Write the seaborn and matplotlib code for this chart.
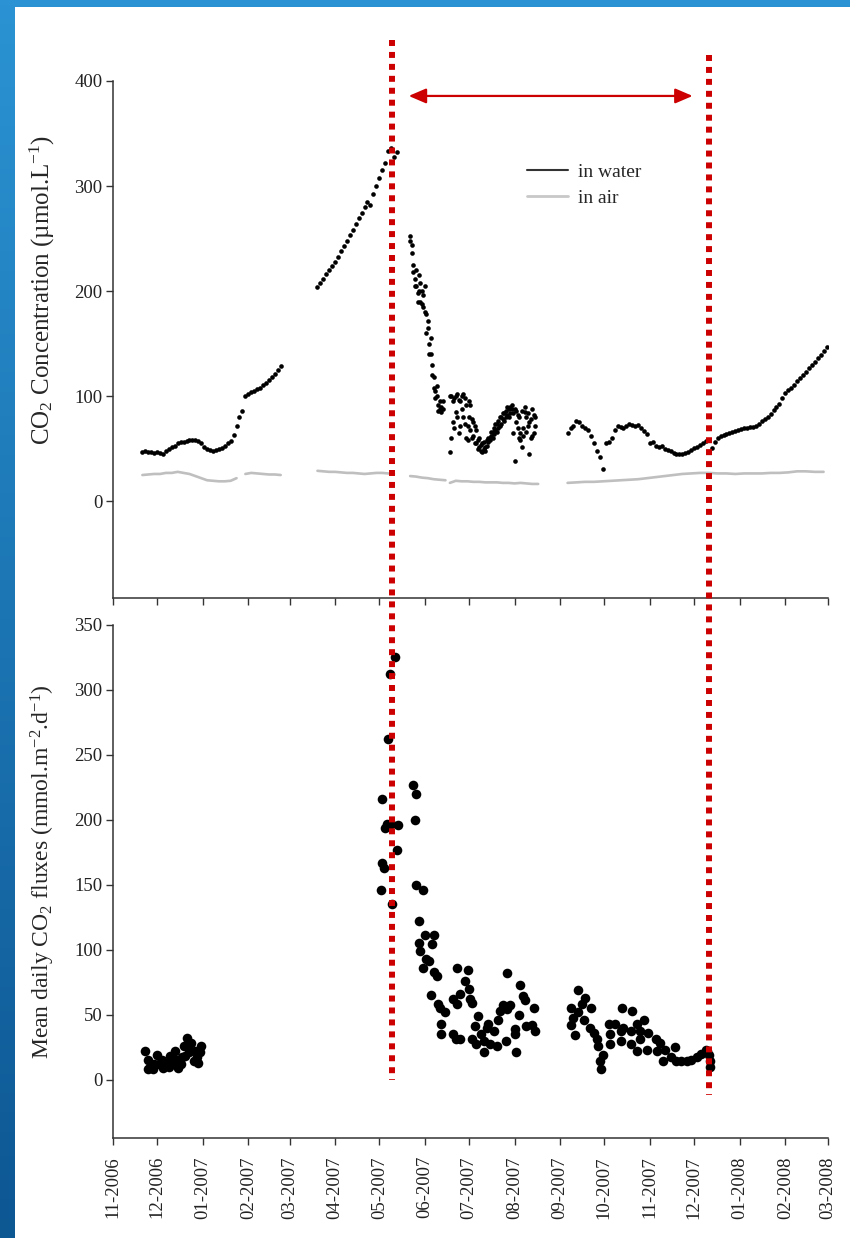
import numpy as np
import pandas as pd
import seaborn as sns
import matplotlib.pyplot as plt
import matplotlib.dates as mdates
import matplotlib.transforms as mtransforms
from matplotlib.lines import Line2D
from matplotlib.patches import Rectangle
from matplotlib.colors import LinearSegmentedColormap

# ---------------- data ----------------
record_start = "2006-11-01"
record_end = "2008-03-01"
events = ["2007-05-10", "2007-12-11"]   # the two dotted markers

# CO2 in water (umol/L), runs of regular readings
water_seg1_start, water_seg1_step = "2006-11-21", 2
water_seg1 = [47, 48, 47, 47, 46, 47, 46, 45, 48, 50, 52, 53, 55, 56, 56, 57, 58, 58, 58, 57,
              55, 52, 50, 49, 48, 49, 50, 51, 53, 55, 57, 63, 72, 80, 86, 100, 102, 104, 105, 107,
              108, 111, 113, 115, 118, 121, 125, 129]
water_seg2_start, water_seg2_step = "2007-03-20", 2
water_seg2 = [204, 208, 212, 216, 220, 224, 228, 232, 238, 243, 248, 253, 258, 264, 270, 274,
              280, 285, 282, 292, 300, 308, 315, 322, 333, 336, 328, 332]
# noisy period: two readings per day (upper / lower part of the spread)
water_seg3_start, water_seg3_step = "2007-05-22", 1
water_seg3 = [252, 244, 225, 212, 205, 198, 215, 190, 200, 185, 205, 178, 165, 150, 140, 130,
              118, 105, 100, 92, 88, 85, 95, np.nan, np.nan, np.nan, np.nan, 47, 100, 75, 98, 85,
              102, 65, 95, 100, 80, 98, 60, 72, 95, 68, 78, 62, 72, 55, 58, 52, 48, 55, 50, 52,
              58, 56, 60, 62, 66, 70, 68, 74, 76, 72, 80, 78, 84, 86, 82, 88, 90, 88, 84, 38,
              75, 82, 60, 65, 52, 70, 85, 80, 72, 45, 78, 62, 82, 80]
water_seg3b = [248, 236, 218, 205, 220, 190, 200, 208, 188, 196, 180, 160, 172, 140, 155, 120,
               108, 98, 110, 86, 95, 90, 88, np.nan, np.nan, np.nan, np.nan, 100, 60, 95, 70, 100,
               80, 96, 72, 88, 102, 74, 92, 58, 80, 92, 60, 75, 55, 68, 50, 60, 54, 47, 56, 48,
               53, 60, 58, 66, 60, 64, 74, 66, 70, 80, 74, 84, 76, 80, 90, 80, 84, 92, 65, 88,
               86, 70, 80, 58, 86, 62, 90, 66, 84, 75, 60, 88, 65, 72]
water_seg4_start, water_seg4_step = "2007-09-06", 2
water_seg4 = [65, 70, 72, 76, 75, 72, 70, 68, 62, 55, 48, 42, 31, 55, 56, 60, 68, 72, 71, 70,
              72, 74, 73, 72, 73, 70, 67, 64, 55, 56, 53, 52, 53, 50, 49, 48, 46, 45, 45, 45,
              46, 47, 49, 51, 52, 54, 55, 57, 47, 51, 56, 60, 62, 63, 64, 65, 66, 67, 68, 69,
              70, 70, 71, 71, 72, 74, 76, 78, 80, 83, 87, 90, 93, 98, 103, 106, 108, 111, 114,
              117, 120, 123, 127, 130, 133, 136, 139, 143, 147]

# CO2 in air (umol/L)
air_seg1_start, air_seg1_step = "2006-11-21", 4
air_seg1 = [25, 25.5, 26, 26, 27, 27, 28, 27, 26, 24, 22, 20, 19.5, 19, 19, 19.5, 22]
air_seg2_start, air_seg2_step = "2007-01-30", 4
air_seg2 = [26, 27, 26.5, 26, 25.5, 25.5, 25]
air_seg3_start, air_seg3_step = "2007-03-20", 4
air_seg3 = [29, 28.5, 28, 28, 27.5, 27, 27, 26.5, 26, 26.5, 27, 27, 26.5, 26]
air_seg4_start, air_seg4_step = "2007-05-22", 4
air_seg4 = [24, 23.5, 22.5, 22, 21, 20.5, 20]
air_seg5_start, air_seg5_step = "2007-06-18", 4
air_seg5 = [17.5, 19.5, 19, 19, 18.5, 18.5, 18, 18, 18, 17.5, 17.5, 17, 17.5, 17, 16.5, 16.5]
air_seg6_start, air_seg6_step = "2007-09-06", 6
air_seg6 = [17.5, 18, 18.5, 18.5, 19, 19.5, 20, 20.5, 21, 22, 23, 24, 25, 26, 26.5, 27, 27,
            26.5, 26.5, 26, 26.5, 26.5, 26.5, 27, 27, 27.5, 28.5, 28.5, 28, 28]

# mean daily CO2 flux (mmol/m2/d), day counted from record_start
flux_day = [22, 24, 25, 24, 27, 28, 30, 31, 33, 34, 36, 38, 39, 40, 42, 43, 44, 46, 47, 48,
            49, 50, 51, 52, 53, 55, 56, 57, 58, 59, 60,
            192, 188, 187, 204, 206, 183, 205, 186, 185, 189, 194, 193, 183, 184, 182, 206, 211, 190,
            208, 212, 218, 208, 217, 209, 213, 215, 211, 218, 220, 234, 241, 268, 239, 277, 242,
            216, 236, 231, 243, 279, 280, 221, 234, 244, 222, 265, 270, 286, 226, 263, 268, 248,
            276, 262, 255, 223, 246, 254, 259, 273, 281, 285, 287, 223, 231, 236, 244, 250, 252,
            256, 261, 267, 273, 247, 252, 274, 233,
            316, 321, 311, 319, 325, 316, 313, 320, 311, 324, 314, 327, 329, 330, 333, 331, 332,
            346, 353, 337, 341, 347, 356, 361, 338, 345, 352, 358, 364, 338, 345, 352, 358, 369,
            372, 356, 363, 370, 375, 382, 374, 379, 383, 386, 390, 393, 397, 400, 403, 404, 405,
            406, 406]
flux_value = [22, 15, 10, 8, 8, 12, 19, 12, 15, 9, 13, 10, 18, 13, 22, 15, 9, 12, 17, 26,
              18, 32, 26, 21, 28, 14, 22, 17, 13, 21, 26,
              325, 312, 262, 227, 220, 216, 200, 197, 194, 197, 196, 177, 167, 163, 146, 150, 146, 135,
              122, 111, 111, 105, 104, 99, 93, 91, 86, 83, 80, 86, 84, 82, 76, 73, 70,
              65, 66, 62, 62, 64, 61, 58, 58, 59, 55, 57, 57, 55, 52, 53, 54, 49,
              50, 46, 43, 43, 41, 40, 37, 39, 41, 42, 37, 35, 35, 31, 31, 35, 30,
              27, 26, 30, 35, 27, 21, 21, 31,
              69, 63, 55, 58, 55, 52, 47, 46, 42, 40, 34, 36, 31, 26, 19, 14, 8,
              55, 53, 43, 43, 40, 43, 46, 35, 37, 37, 37, 36, 27, 30, 27, 31, 31,
              28, 22, 23, 22, 23, 25, 14, 17, 14, 14, 14, 15, 17, 20, 23, 22, 19,
              14, 10]


def runs(parts):
    frames = []
    for i, (start, step, vals) in enumerate(parts):
        dates = pd.date_range(start, periods=len(vals), freq=f"{step}D")
        frames.append(pd.DataFrame({"date": dates, "co2": vals, "run": i}))
    return pd.concat(frames, ignore_index=True)


water = runs([(water_seg1_start, water_seg1_step, water_seg1),
              (water_seg2_start, water_seg2_step, water_seg2),
              (water_seg3_start, water_seg3_step, water_seg3),
              (water_seg3_start, water_seg3_step, water_seg3b),
              (water_seg4_start, water_seg4_step, water_seg4)]).dropna()
air = runs([(air_seg1_start, air_seg1_step, air_seg1),
            (air_seg2_start, air_seg2_step, air_seg2),
            (air_seg3_start, air_seg3_step, air_seg3),
            (air_seg4_start, air_seg4_step, air_seg4),
            (air_seg5_start, air_seg5_step, air_seg5),
            (air_seg6_start, air_seg6_step, air_seg6)])
flux = pd.DataFrame({"date": pd.Timestamp(record_start) + pd.to_timedelta(flux_day, unit="D"),
                     "flux": flux_value})

# ---------------- style ----------------
sns.set_style("ticks")
plt.rcParams["font.family"] = ["Liberation Serif", "DejaVu Serif"]
plt.rcParams["mathtext.fontset"] = "custom"
plt.rcParams["mathtext.rm"] = "Liberation Serif"
plt.rcParams["mathtext.it"] = "Liberation Serif:italic"
axis_col = "#333333"
red = "#cc0000"

fig = plt.figure(figsize=(8.5, 12.38), dpi=100)

# slide background: blue gradient frame with white panel
bg = fig.add_axes([0, 0, 1, 1], zorder=-5)
grad = np.linspace(0, 1, 256).reshape(-1, 1)
bg.imshow(grad, aspect="auto", extent=[0, 1, 0, 1],
          cmap=LinearSegmentedColormap.from_list("bg", ["#2b93d3", "#0d5793"]))
bg.add_patch(Rectangle((15 / 850, 0), 1, 1 - 7 / 1238, facecolor="white", edgecolor="none"))
bg.set_xlim(0, 1)
bg.set_ylim(0, 1)
bg.set_axis_off()

ax1 = fig.add_axes([0.1329, 0.5170, 0.8412, 0.4176])
ax2 = fig.add_axes([0.1329, 0.0808, 0.8412, 0.4144])

# top panel: concentrations
sns.lineplot(data=air, x="date", y="co2", units="run", estimator=None, ax=ax1,
             color="#bfbfbf", lw=1.9, legend=False)
sns.scatterplot(data=water, x="date", y="co2", ax=ax1, color="black", s=11,
                linewidth=0, legend=False)
ax1.set_ylim(-92, 400)
ax1.set_yticks([0, 100, 200, 300, 400])
ax1.set_ylabel("CO$_2$ Concentration (µmol.L$^{-1}$)", fontsize=18)
ax1.yaxis.set_label_coords(-0.078, 0.596)
ax1.set_xlabel("")
handles = [Line2D([], [], color="#333333", lw=1.5), Line2D([], [], color="#c8c8c8", lw=2)]
ax1.legend(handles, ["in water", "in air"], frameon=False, loc="upper left",
           bbox_to_anchor=(0.555, 0.875), fontsize=14, handlelength=2.1,
           handletextpad=0.5, labelspacing=0.45)

# bottom panel: fluxes
sns.scatterplot(data=flux, x="date", y="flux", ax=ax2, color="black", s=48,
                linewidth=0, legend=False)
ax2.set_ylim(-45, 350)
ax2.set_yticks(range(0, 351, 50))
ax2.set_ylabel("Mean daily CO$_2$ fluxes (mmol.m$^{-2}$.d$^{-1}$)", fontsize=17)
ax2.yaxis.set_label_coords(-0.078, 0.52)
ax2.set_xlabel("")

for ax in (ax1, ax2):
    ax.set_xlim(pd.Timestamp(record_start), pd.Timestamp(record_end))
    ax.xaxis.set_major_locator(mdates.MonthLocator())
    ax.xaxis.set_major_formatter(mdates.DateFormatter("%m-%Y"))
    ax.set_facecolor("none")
    sns.despine(ax=ax)
    for s in ("left", "bottom"):
        ax.spines[s].set_color(axis_col)
        ax.spines[s].set_linewidth(1.1)
    ax.tick_params(colors=axis_col, labelcolor="#222222", labelsize=13.5,
                   length=5, width=1.0, direction="out", pad=2.5)
ax1.tick_params(axis="x", labelbottom=False)
ax2.tick_params(axis="x", labelrotation=90, pad=8)

# dotted event markers spanning both panels + double arrow
blend = mtransforms.blended_transform_factory(ax1.transData, fig.transFigure)
ev = [mdates.date2num(pd.Timestamp(d)) for d in events]
for x, (ytop, ybot) in zip(ev, [(0.9677, 0.1276), (0.9556, 0.1155)]):
    fig.add_artist(Line2D([x, x], [ytop, ybot], transform=blend, color=red, lw=4.3,
                          linestyle=(0, (1, 1)), dash_capstyle="butt", clip_on=False, zorder=5))
ax1.annotate("", xy=(ev[1] - 11, 0.9225), xytext=(ev[0] + 11, 0.9225),
             xycoords=blend, textcoords=blend, annotation_clip=False,
             arrowprops=dict(arrowstyle="<|-|>,head_length=0.7,head_width=0.3",
                             color=red, lw=1.6, shrinkA=0, shrinkB=0, mutation_scale=15))

fig.savefig("out.png", dpi=100)
